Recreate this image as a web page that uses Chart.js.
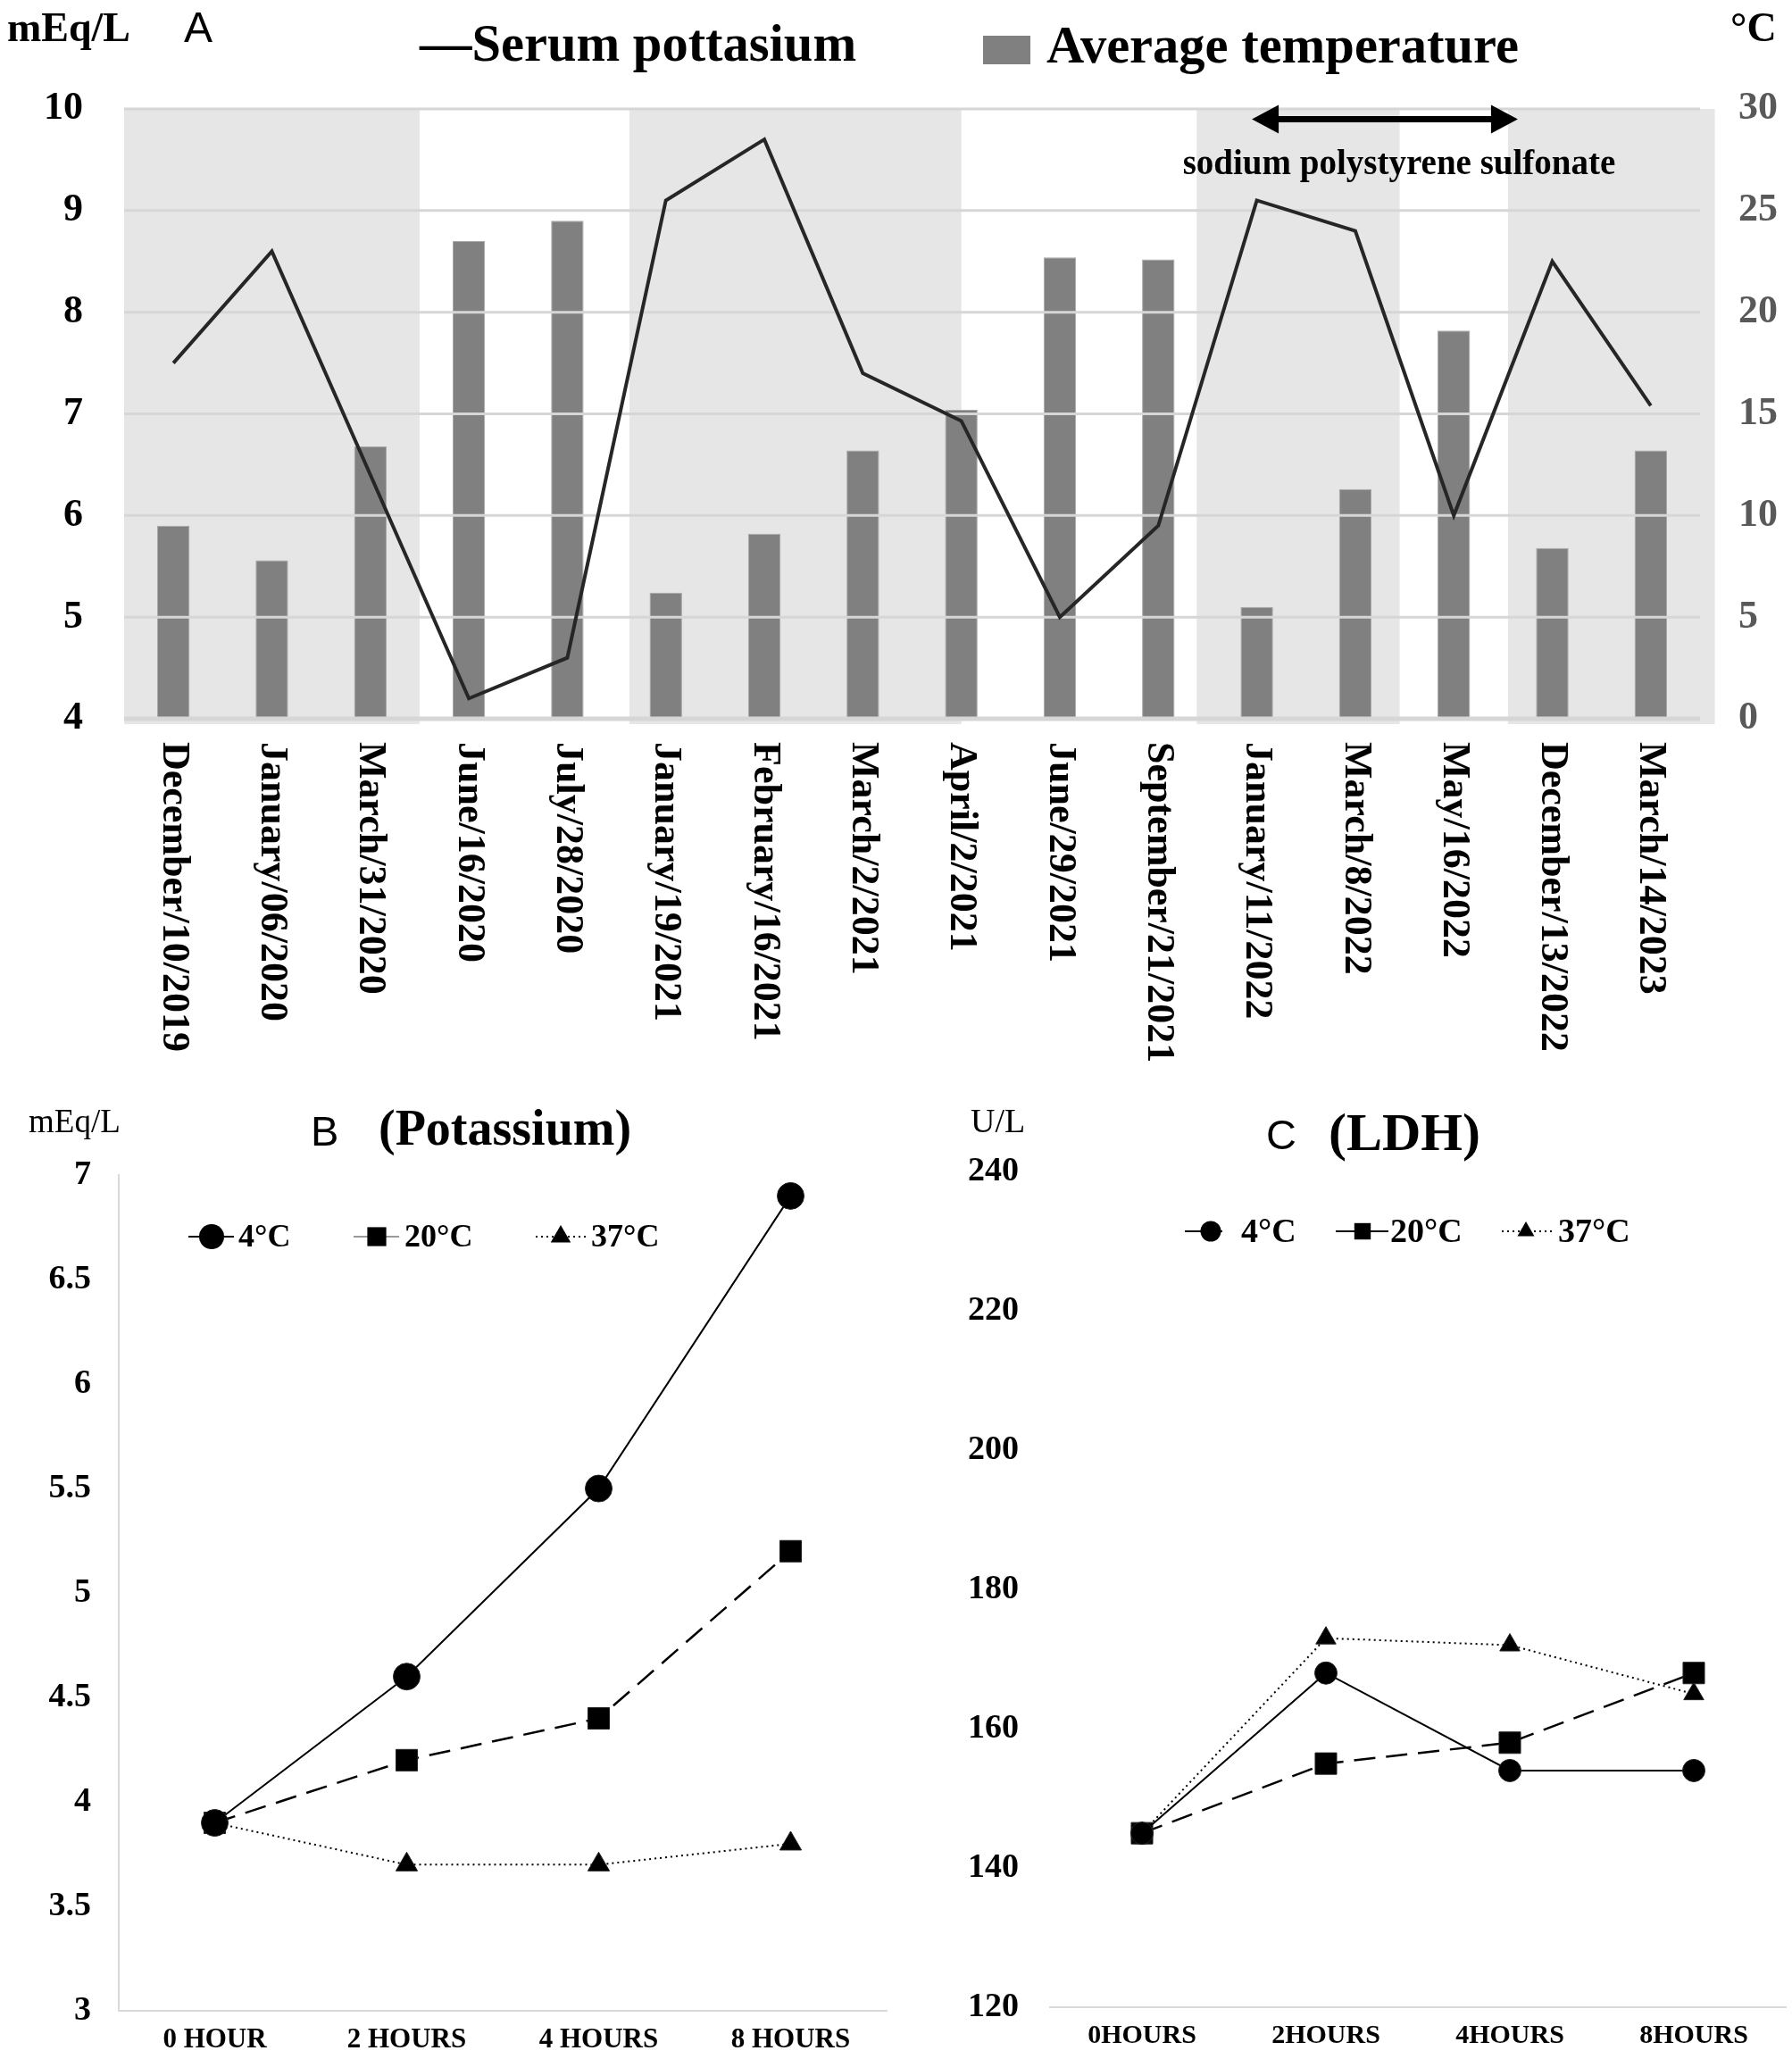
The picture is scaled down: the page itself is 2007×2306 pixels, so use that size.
<!DOCTYPE html>
<html>
<head>
<meta charset="utf-8">
<script src="https://cdn.jsdelivr.net/npm/chart.js@4"></script>
<style>
body { margin: 0; background: #fff; width: 2007px; height: 2306px; position: relative; overflow: hidden; }
canvas { position: absolute; }
#chartA { left: 0; top: 0; }
#chartB { left: 0; top: 1220px; }
#chartC { left: 1000px; top: 1220px; }
</style>
</head>
<body>
<canvas id="chartA" width="2007" height="1200"></canvas>
<canvas id="chartB" width="1000" height="1086"></canvas>
<canvas id="chartC" width="1007" height="1086"></canvas>
<script>
const SERIF = '"Liberation Serif", "Times New Roman", serif';
const SANS = '"Liberation Sans", Arial, sans-serif';

// panel A
const visitDates = [
    'December/10/2019', 'January/06/2020', 'March/31/2020', 'June/16/2020',
    'July/28/2020', 'January/19/2021', 'February/16/2021', 'March/2/2021',
    'April/2/2021', 'June/29/2021', 'September/21/2021', 'January/11/2022',
    'March/8/2022', 'May/16/2022', 'December/13/2022', 'March/14/2023'
];
const serumK = [7.5, 8.6, 6.4, 4.2, 4.6, 9.1, 9.7, 7.4, 6.93, 5.0, 5.9, 9.1, 8.8, 6.0, 8.5, 7.08];
const avgTemp = [9.5, 7.8, 13.4, 23.5, 24.5, 6.2, 9.1, 13.2, 15.2, 22.7, 22.6, 5.5, 11.3, 19.1, 8.4, 13.2];
// shaded periods, in category index units
const shadedPeriods = [[-0.5, 2.5], [4.63, 8.0], [10.39, 12.45], [13.55, 15.65]];
const spsPeriod = [10.95, 13.65];

// panels B and C
const hourLabelsB = ['0 HOUR', '2 HOURS', '4 HOURS', '8 HOURS'];
const hourLabelsC = ['0HOURS', '2HOURS', '4HOURS', '8HOURS'];
const potassium4 = [3.9, 4.6, 5.5, 6.9];
const potassium20 = [3.9, 4.2, 4.4, 5.2];
const potassium37 = [3.9, 3.7, 3.7, 3.8];
const ldh4 = [145, 168, 154, 154];
const ldh20 = [145, 155, 158, 168];
const ldh37 = [145, 173, 172, 165];

function drawMarker(ctx, style, x, y, r) {
    ctx.beginPath();
    if (style === 'circle') {
        ctx.arc(x, y, r, 0, Math.PI * 2);
    } else if (style === 'rect') {
        const s = r * Math.SQRT1_2;
        ctx.rect(x - s, y - s, 2 * s, 2 * s);
    } else {
        ctx.moveTo(x, y - r);
        ctx.lineTo(x + r * Math.sin(Math.PI / 3), y + r * 0.5);
        ctx.lineTo(x - r * Math.sin(Math.PI / 3), y + r * 0.5);
        ctx.closePath();
    }
    ctx.fill();
}

const panelA = {
    id: 'panelA',
    beforeDraw(chart) {
        const { ctx, chartArea, scales: { x } } = chart;
        ctx.save();
        ctx.fillStyle = '#e6e6e6';
        shadedPeriods.forEach(([a, b]) => {
            const x0 = x.getPixelForValue(a);
            const x1 = x.getPixelForValue(b);
            ctx.fillRect(x0, chartArea.top, x1 - x0, chartArea.bottom - chartArea.top + 6);
        });
        ctx.restore();
    },
    afterDatasetDraw(chart, args) {
        if (args.index !== 1) return;
        // grid lines sit over the bars but under the line
        const { ctx, chartArea, scales: { y } } = chart;
        ctx.save();
        ctx.strokeStyle = '#d6d6d6';
        y.ticks.forEach((t) => {
            const py = y.getPixelForValue(t.value);
            ctx.lineWidth = t.value === y.min ? 5 : 3;
            ctx.beginPath();
            ctx.moveTo(chartArea.left, py);
            ctx.lineTo(chartArea.right, py);
            ctx.stroke();
        });
        ctx.restore();
    },
    afterDraw(chart) {
        const { ctx, chartArea, scales: { x, y } } = chart;
        ctx.save();
        ctx.fillStyle = '#000';

        // rotated date labels
        ctx.font = 'bold 44px ' + SERIF;
        ctx.textAlign = 'left';
        ctx.textBaseline = 'middle';
        visitDates.forEach((lab, i) => {
            ctx.save();
            ctx.translate(x.getPixelForValue(i), chartArea.bottom + 26);
            ctx.rotate(Math.PI / 2);
            ctx.fillText(lab, 0, 0);
            ctx.restore();
        });

        // units and panel letter
        ctx.textBaseline = 'alphabetic';
        ctx.font = 'bold 46px ' + SERIF;
        ctx.fillText('mEq/L', 8, 46);
        ctx.fillText('\u00B0C', 1938, 46);
        ctx.font = '48px ' + SANS;
        ctx.fillText('A', 206, 47);

        // legend
        const ds = chart.data.datasets;
        ctx.font = 'bold 58.5px ' + SERIF;
        ctx.fillText('\u2014' + ds[0].label, 470, 68);
        ctx.fillStyle = ds[1].backgroundColor;
        ctx.fillRect(1101, 40, 53, 32);
        ctx.fillStyle = '#000';
        ctx.fillText(ds[1].label, 1172, 70);

        // sodium polystyrene sulfonate period
        const ax0 = x.getPixelForValue(spsPeriod[0]);
        const ax1 = x.getPixelForValue(spsPeriod[1]);
        const ay = y.getPixelForValue(9.9);
        const head = 30;
        ctx.strokeStyle = '#000';
        ctx.lineWidth = 7;
        ctx.beginPath();
        ctx.moveTo(ax0 + head - 2, ay);
        ctx.lineTo(ax1 - head + 2, ay);
        ctx.stroke();
        ctx.beginPath();
        ctx.moveTo(ax0, ay);
        ctx.lineTo(ax0 + head, ay - 16);
        ctx.lineTo(ax0 + head, ay + 16);
        ctx.closePath();
        ctx.moveTo(ax1, ay);
        ctx.lineTo(ax1 - head, ay - 16);
        ctx.lineTo(ax1 - head, ay + 16);
        ctx.closePath();
        ctx.fill();
        ctx.font = 'bold 39px ' + SERIF;
        ctx.textAlign = 'center';
        ctx.textBaseline = 'middle';
        ctx.fillText('sodium polystyrene sulfonate', (ax0 + ax1) / 2 + 16, y.getPixelForValue(9.45));
        ctx.restore();
    }
};

new Chart(document.getElementById('chartA'), {
    data: {
        labels: visitDates,
        datasets: [{
            type: 'line',
            label: 'Serum pottasium',
            data: serumK,
            yAxisID: 'y',
            borderColor: '#262626',
            borderWidth: 4,
            pointRadius: 0,
            tension: 0,
            order: 0
        }, {
            type: 'bar',
            label: 'Average temperature',
            data: avgTemp,
            yAxisID: 'y1',
            backgroundColor: '#808080',
            borderColor: '#a8a8a8',
            borderWidth: 1,
            barPercentage: 0.33,
            categoryPercentage: 1,
            order: 1
        }]
    },
    options: {
        responsive: false,
        devicePixelRatio: 1,
        animation: false,
        layout: { padding: { top: 122 }, autoPadding: false },
        plugins: { legend: { display: false }, tooltip: { enabled: false } },
        scales: {
            x: {
                grid: { display: false, drawTicks: false },
                border: { display: false },
                ticks: { display: false },
                afterFit(s) { s.height = 395; }
            },
            y: {
                position: 'left',
                min: 4,
                max: 10,
                grid: { display: false, drawTicks: false },
                border: { display: false },
                ticks: { stepSize: 1, padding: 46, color: '#000', font: { family: SERIF, size: 44, weight: 'bold' } },
                afterFit(s) { s.width = 139; }
            },
            y1: {
                position: 'right',
                min: 0,
                max: 30,
                grid: { display: false, drawTicks: false },
                border: { display: false },
                ticks: { stepSize: 5, padding: 43, color: '#595959', font: { family: SERIF, size: 44, weight: 'bold' } },
                afterFit(s) { s.width = 103; }
            }
        }
    },
    plugins: [panelA]
});

function makePanel(cfg) {
    return {
        id: 'panel',
        afterDraw(chart) {
            const ctx = chart.ctx;
            ctx.save();
            ctx.fillStyle = '#000';
            ctx.textAlign = 'left';
            ctx.textBaseline = 'middle';
            ctx.font = cfg.unitSize + 'px ' + SERIF;
            ctx.fillText(cfg.unit, cfg.unitX, cfg.unitY);
            ctx.font = cfg.letterSize + 'px ' + SANS;
            ctx.fillText(cfg.letter, cfg.letterX, cfg.titleY + 2);
            ctx.font = 'bold ' + cfg.titleSize + 'px ' + SERIF;
            ctx.fillText(cfg.title, cfg.titleX, cfg.titleY);

            chart.data.datasets.forEach((ds, i) => {
                const it = cfg.legend[i];
                const ly = cfg.legendY;
                ctx.save();
                ctx.strokeStyle = it.lineColor || '#000';
                ctx.lineWidth = 2;
                ctx.setLineDash(it.dash || []);
                ctx.beginPath();
                ctx.moveTo(it.line[0], ly);
                ctx.lineTo(it.line[1], ly);
                ctx.stroke();
                ctx.setLineDash([]);
                ctx.fillStyle = '#000';
                drawMarker(ctx, ds.pointStyle, it.marker, ly, it.r);
                ctx.font = 'bold ' + cfg.legendSize + 'px ' + SERIF;
                ctx.fillText(ds.label, it.text, ly + 2);
                ctx.restore();
            });
            ctx.restore();
        }
    };
}

function series(label, data, style, radius, dash, width) {
    return {
        label: label,
        data: data,
        borderColor: '#000',
        backgroundColor: '#000',
        borderWidth: width,
        borderDash: dash,
        pointStyle: style,
        pointRadius: radius,
        pointBackgroundColor: '#000',
        pointBorderColor: '#222',
        pointBorderWidth: 1,
        tension: 0
    };
}

const tickFont = (size) => ({ family: SERIF, size: size, weight: 'bold' });

new Chart(document.getElementById('chartB'), {
    type: 'line',
    data: {
        labels: hourLabelsB,
        datasets: [
            series('4\u00B0C', potassium4, 'circle', 15, [], 2),
            series('20\u00B0C', potassium20, 'rect', 17, [24, 12], 2.5),
            series('37\u00B0C', potassium37, 'triangle', 14, [2, 4], 2)
        ]
    },
    options: {
        responsive: false,
        devicePixelRatio: 1,
        animation: false,
        layout: { padding: { top: 96, right: 7 }, autoPadding: false },
        plugins: { legend: { display: false }, tooltip: { enabled: false } },
        scales: {
            x: {
                offset: true,
                grid: { display: false, drawTicks: false },
                border: { display: true, color: '#d9d9d9', width: 2 },
                ticks: { padding: 14, maxRotation: 0, color: '#000', font: tickFont(31) },
                afterFit(s) { s.height = 52; }
            },
            y: {
                min: 3,
                max: 7,
                grid: { display: false, drawTicks: false },
                border: { display: true, color: '#d9d9d9', width: 2 },
                ticks: { stepSize: 0.5, padding: 31, color: '#000', font: tickFont(38), callback: (v) => String(v) },
                afterFit(s) { s.width = 133; }
            }
        }
    },
    plugins: [makePanel({
        unit: 'mEq/L', unitX: 32, unitY: 38, unitSize: 37,
        letter: 'B', letterX: 348, letterSize: 47,
        title: '(Potassium)', titleX: 424, titleY: 48, titleSize: 56,
        legendY: 165, legendSize: 36,
        legend: [
            { line: [211, 262], marker: 237, text: 267, r: 14 },
            { line: [396, 447], marker: 422, text: 453, r: 15, lineColor: '#9a9a9a' },
            { line: [600, 657], marker: 628, text: 662, r: 13, dash: [2, 4] }
        ]
    })]
});

new Chart(document.getElementById('chartC'), {
    type: 'line',
    data: {
        labels: hourLabelsC,
        datasets: [
            series('4\u00B0C', ldh4, 'circle', 12.5, [], 2),
            series('20\u00B0C', ldh20, 'rect', 17, [24, 12], 2.5),
            series('37\u00B0C', ldh37, 'triangle', 13, [2, 4], 2)
        ]
    },
    options: {
        responsive: false,
        devicePixelRatio: 1,
        animation: false,
        layout: { padding: { top: 92, right: 7 }, autoPadding: false },
        plugins: { legend: { display: false }, tooltip: { enabled: false } },
        scales: {
            x: {
                offset: true,
                grid: { display: false, drawTicks: false },
                border: { display: true, color: '#d9d9d9', width: 2 },
                ticks: { padding: 14, maxRotation: 0, color: '#000', font: tickFont(30) },
                afterFit(s) { s.height = 56; }
            },
            y: {
                min: 120,
                max: 240,
                grid: { display: false, drawTicks: false },
                border: { display: false },
                ticks: { stepSize: 20, padding: 35, color: '#000', font: tickFont(38) },
                afterFit(s) { s.width = 176; }
            }
        }
    },
    plugins: [makePanel({
        unit: 'U/L', unitX: 87, unitY: 38, unitSize: 38,
        letter: 'C', letterX: 418, letterSize: 47,
        title: '(LDH)', titleX: 488, titleY: 52, titleSize: 60,
        legendY: 159, legendSize: 38,
        legend: [
            { line: [327, 369], marker: 356, text: 390, r: 11.5 },
            { line: [496, 555], marker: 526, text: 557, r: 13 },
            { line: [682, 742], marker: 709, text: 745, r: 11, dash: [2, 4] }
        ]
    })]
});
</script>
</body>
</html>
